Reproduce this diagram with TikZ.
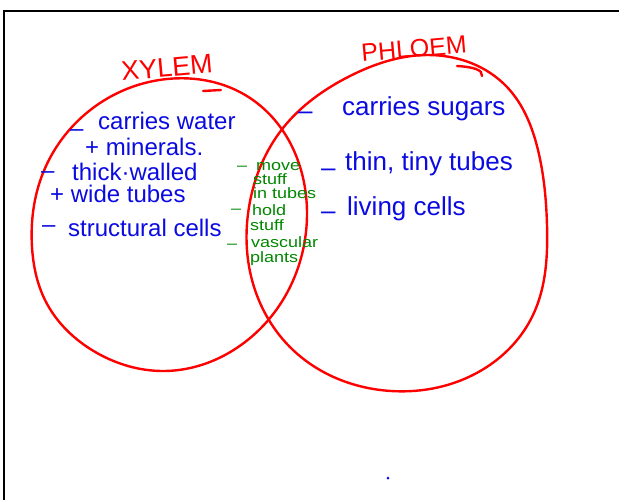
\documentclass[tikz,border=0pt]{standalone}
\usepackage{fontspec}
\usetikzlibrary{hobby}
\setmainfont{Liberation Sans}
\newfontfamily\greenfont[FakeStretch=1.2]{Liberation Sans}
\definecolor{penred}{RGB}{255,0,0}
\definecolor{penblue}{RGB}{10,10,225}
\definecolor{pengreen}{RGB}{0,135,0}
\begin{document}
\begin{tikzpicture}[x=1pt,y=-1pt,
  txt/.style={inner sep=0pt, anchor=base west},
  bluex/.style={txt, text=penblue, font=\fontsize{24}{28}\selectfont},
  bluep/.style={txt, text=penblue, font=\fontsize{26}{30}\selectfont},
  greentxt/.style={txt, text=pengreen, font=\greenfont\fontsize{15}{17}\selectfont},
  redtxt/.style={txt, text=penred},
  ring/.style={draw=penred, line width=2.4pt, line join=round, line cap=round},
  frame/.style={draw=black, line width=2.6pt}]
\useasboundingbox (0,0) rectangle (619,499);
% frame
\draw[frame] (4,500) -- (4,11) -- (620,11);
% xylem circle
\draw[ring, use Hobby shortcut, closed=true]
 (167,79) .. (250,98) .. (307,212) .. (232,351) .. (163,371)
 .. (97,353) .. (45,300) .. (32,247) .. (43,173) .. (100,103);
\draw[ring] (203,91) -- (221,90);
% phloem circle
\draw[ring, use Hobby shortcut, closed=true]
 (427,55) .. (507,87) .. (538,150) .. (547,225) .. (533,315) .. (482,370) .. (391,391)
 .. (293,350) .. (252,280) .. (249,207) .. (283,128) .. (350,76);
\draw[ring] (457,66) .. controls (474,67) and (483,70) .. (482,76);
% titles
\node[redtxt, font=\fontsize{27}{30}\selectfont, rotate=5] (xylem) at (122,81) {XYLEM};
\node[redtxt, font=\fontsize{25}{28}\selectfont, rotate=5] (phloem) at (362,62) {PHLOEM};
% xylem text
\node[bluex] (xd1) at (70,136) {–};
\node[bluex] (x1) at (98,129) {carries water};
\node[bluex] (x2) at (85,155) {+ minerals.};
\node[bluex] (xd2) at (41,178) {–};
\node[bluex] (x3) at (72,180) {thick·walled};
\node[bluex] (x4) at (50,202) {+ wide tubes};
\node[bluex] (xd3) at (42,232) {–};
\node[bluex] (x5) at (68,236) {structural cells};
% phloem text
\node[bluep] (pd1) at (298,119) {–};
\node[bluep] (p1) at (342,115) {carries sugars};
\node[bluep] (pd2) at (321,176) {–};
\node[bluep] (p2) at (345,170) {thin, tiny tubes};
\node[bluep] (pd3) at (321,219) {–};
\node[bluep] (p3) at (347,215) {living cells};
% shared text
\node[greentxt] (gd1) at (237,170) {–};
\node[greentxt] (g1) at (256,170) {move};
\node[greentxt] (g2) at (253,184) {stuff};
\node[greentxt] (g3) at (253,198) {in tubes};
\node[greentxt] (gd2) at (231,213) {–};
\node[greentxt] (g4) at (252,215) {hold};
\node[greentxt] (g5) at (250,230) {stuff};
\node[greentxt] (gd3) at (227,248) {–};
\node[greentxt] (g6) at (251,247) {vascular};
\node[greentxt] (g7) at (250,262) {plants};
% stray dot
\fill[penblue] (388,478) circle (1.5);
\end{tikzpicture}
\end{document}
